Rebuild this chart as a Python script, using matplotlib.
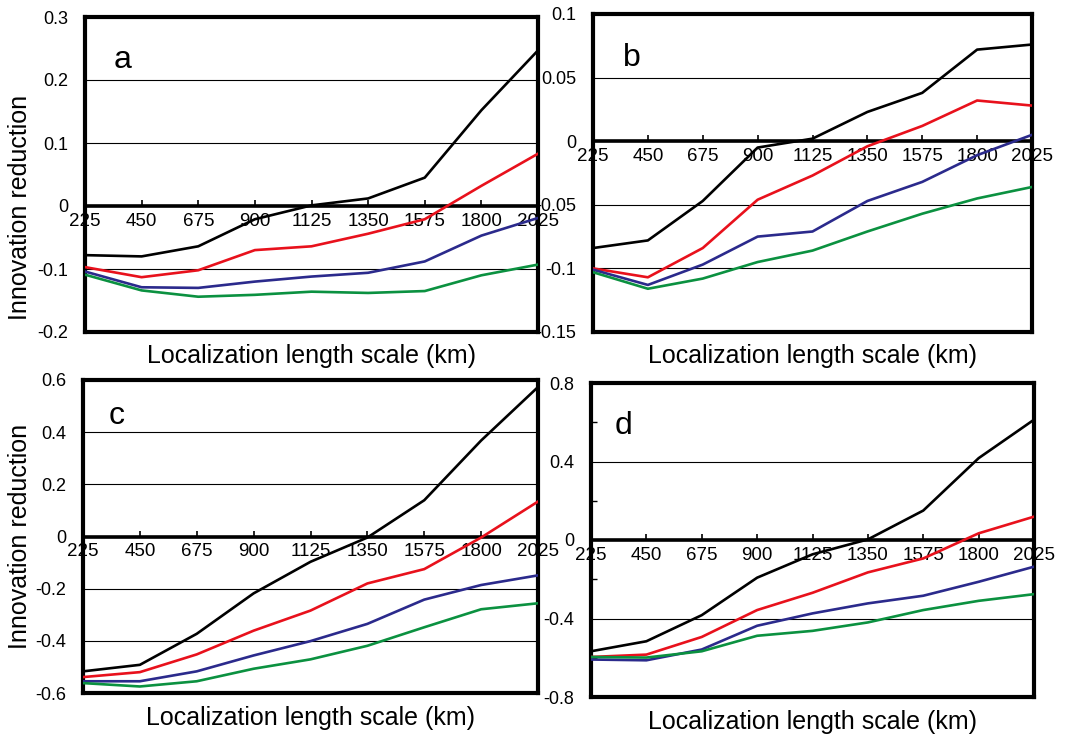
import numpy as np
import matplotlib
matplotlib.use("Agg")
import matplotlib.pyplot as plt
from matplotlib.ticker import FormatStrFormatter

plt.rcParams['font.family'] = ['Liberation Sans', 'DejaVu Sans']
plt.rcParams['axes.unicode_minus'] = False

# localization length scales (km)
scales = [225, 450, 675, 900, 1125, 1350, 1575, 1800, 2025]

# panel a
a_black = [-0.078, -0.080, -0.064, -0.021, 0.001, 0.012, 0.045, 0.152, 0.247]
a_red = [-0.097, -0.113, -0.102, -0.070, -0.064, -0.044, -0.021, 0.032, 0.083]
a_blue = [-0.104, -0.129, -0.130, -0.120, -0.112, -0.106, -0.088, -0.047, -0.019]
a_green = [-0.109, -0.134, -0.144, -0.141, -0.136, -0.138, -0.135, -0.110, -0.093]

# panel b
b_black = [-0.084, -0.078, -0.047, -0.005, 0.002, 0.023, 0.038, 0.072, 0.076]
b_red = [-0.100, -0.107, -0.084, -0.046, -0.027, -0.004, 0.012, 0.032, 0.028]
b_blue = [-0.101, -0.113, -0.097, -0.075, -0.071, -0.047, -0.032, -0.011, 0.005]
b_green = [-0.103, -0.116, -0.108, -0.095, -0.086, -0.071, -0.057, -0.045, -0.036]

# panel c
c_black = [-0.517, -0.492, -0.373, -0.218, -0.097, -0.004, 0.139, 0.368, 0.573]
c_red = [-0.539, -0.520, -0.452, -0.361, -0.284, -0.180, -0.125, -0.004, 0.134]
c_blue = [-0.555, -0.555, -0.517, -0.456, -0.401, -0.335, -0.242, -0.186, -0.149]
c_green = [-0.562, -0.575, -0.555, -0.507, -0.471, -0.419, -0.348, -0.279, -0.256]

# panel d
d_black = [-0.567, -0.516, -0.383, -0.192, -0.073, 0.003, 0.150, 0.417, 0.613]
d_red = [-0.596, -0.584, -0.494, -0.357, -0.269, -0.165, -0.094, 0.034, 0.119]
d_blue = [-0.609, -0.613, -0.558, -0.437, -0.374, -0.323, -0.284, -0.213, -0.136]
d_green = [-0.596, -0.599, -0.567, -0.488, -0.463, -0.420, -0.357, -0.310, -0.276]

letters = ['a', 'b', 'c', 'd']
yticks = [
    [-0.2, -0.1, 0, 0.1, 0.2, 0.3],
    [-0.15, -0.1, -0.05, 0, 0.05, 0.1],
    [-0.6, -0.4, -0.2, 0, 0.2, 0.4, 0.6],
    [-0.8, -0.4, 0, 0.4, 0.8],
]
series = [
    [a_black, a_red, a_blue, a_green],
    [b_black, b_red, b_blue, b_green],
    [c_black, c_red, c_blue, c_green],
    [d_black, d_red, d_blue, d_green],
]
colors = ['black', '#e8111c', '#2b2a8c', '#0b9140']

W, H = 1068, 736
# axes boxes in pixels: left, right, top, bottom
boxes = [(85, 538, 17, 332), (593, 1032, 14, 332),
         (83, 538, 380, 693), (591, 1034, 383, 697)]
# letter baseline positions in pixels
letter_pos = [(123, 68), (632, 66), (117, 424), (623, 434)]
# y label position (axes fraction) for the left column
ylabel_pos = [(-0.117, 0.394), None, (-0.112, 0.5), None]

fig = plt.figure(figsize=(W / 100, H / 100), dpi=100)

for i in range(4):
    l, r, t, b = boxes[i]
    ax = fig.add_axes([l / W, 1 - b / H, (r - l) / W, (b - t) / H])
    for ys, c in zip(series[i], colors):
        ax.plot(scales, ys, color=c, lw=1.9, zorder=3)
    ticks = yticks[i]
    ax.set_ylim(ticks[0], ticks[-1])
    ax.set_xlim(scales[0], scales[-1])
    ax.set_yticks(ticks)
    ax.yaxis.set_major_formatter(FormatStrFormatter('%g'))
    if i == 3:
        ax.set_yticks([-0.6, -0.2, 0.2, 0.6], minor=True)
        ax.tick_params(axis='y', which='minor', direction='in', length=4, width=1)
    ax.tick_params(axis='y', direction='in', length=0, labelsize=13, pad=12)
    ax.set_xticks([])
    ax.grid(axis='y', color='black', lw=0.8)
    for sp in ax.spines.values():
        sp.set_linewidth(3)
    ax.set_xlabel('Localization length scale (km)', fontsize=18, labelpad=9)
    if ylabel_pos[i] is not None:
        ax.set_ylabel('Innovation reduction', fontsize=18)
        ax.yaxis.set_label_coords(*ylabel_pos[i])

    # zero line with the x tick labels, as in the original
    frac = (0 - ticks[0]) / (ticks[-1] - ticks[0])
    sec = ax.secondary_xaxis(frac)
    sec.set_alignment('bottom')
    sec.set_xticks(scales)
    sec.tick_params(direction='in', length=4, width=1.2, labelsize=13.5, pad=5)
    sec.spines['bottom'].set_linewidth(2.6)

    lx, ly = letter_pos[i]
    fig.text(lx / W, 1 - ly / H, letters[i], fontsize=23, ha='center', va='baseline')

fig.savefig('out.png', dpi=100)
